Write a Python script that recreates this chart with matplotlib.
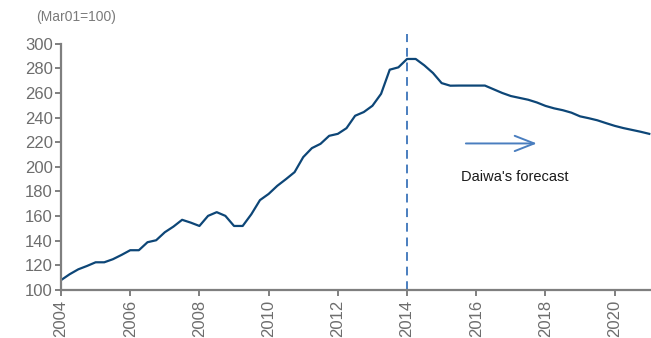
import numpy as np
import matplotlib
matplotlib.use("Agg")
import matplotlib.pyplot as plt

# Quarterly index, Mar01=100 (actual to 2015Q2, forecast afterwards)
start_year = 2004.0
index_values = [
    108, 112.8, 116.8, 119.5, 122.5, 122.5, 125, 128.5,
    132.3, 132.3, 138.8, 140.4, 146.9, 151.5, 157, 154.7,
    152, 160.2, 163.2, 160.2, 152, 152, 161.5, 173,
    178, 184.6, 190, 195.7, 207.9, 215.2, 218.7, 225.2,
    226.8, 231.4, 241.5, 244.5, 249.6, 259.3, 278.9, 280.8,
    287.6, 287.6, 282.4, 276.2, 268, 265.9, 266, 266,
    266, 266, 263, 260, 257.5, 256, 254.5, 252.3,
    249.5, 247.5, 246, 244, 241, 239.5, 237.8, 235.5,
    233.3, 231.5, 230, 228.5, 226.8,
]
forecast_start = 2014
x_ticks = list(range(2004, 2021, 2))
y_ticks = list(range(100, 301, 20))
unit_label = "(Mar01=100)"
forecast_label = "Daiwa's forecast"

quarters = start_year + np.arange(len(index_values)) * 0.25

fonts = ["Liberation Sans Narrow", "Liberation Sans", "DejaVu Sans"]
plt.rcParams["font.family"] = fonts

grey = "#7f7f7f"
fig = plt.figure(figsize=(6.51, 3.38), dpi=100)
ax = fig.add_axes([61 / 651, 1 - 290 / 338, 1 - 61 / 651, (290 - 43.7) / 338])

ax.plot(quarters, index_values, color="#0d4677", lw=1.6, solid_joinstyle="round")

ax.plot([forecast_start, forecast_start], [100, 308], color="#4a7ebf", lw=1.4,
        linestyle=(0, (4.5, 3)), clip_on=False)

ax.set_xlim(2004, 2021.05)
ax.set_ylim(100, 300)
ax.set_xticks(x_ticks)
ax.set_yticks(y_ticks)
ax.set_xticklabels([str(t) for t in x_ticks], rotation=90)

for side in ("top", "right"):
    ax.spines[side].set_visible(False)
for side in ("left", "bottom"):
    ax.spines[side].set_color(grey)
    ax.spines[side].set_linewidth(1.6)

ax.tick_params(axis="both", colors=grey, labelcolor="#6d6d6d", labelsize=12,
               width=1.4, length=4, direction="out")
ax.tick_params(axis="x", pad=3)
ax.tick_params(axis="y", pad=2)

fig.text(36 / 651, 1 - 17 / 338, unit_label, color="#7a7a7a", fontsize=10,
         ha="left", va="center")

ax.annotate("", xy=(2017.75, 219), xytext=(2015.7, 219),
            arrowprops=dict(arrowstyle="->,head_length=1.4,head_width=0.55",
                            color="#4a7ebf", lw=1.4, shrinkA=0, shrinkB=0))
ax.text(2015.55, 192, forecast_label, color="#1a1a1a", fontsize=10.5,
        ha="left", va="center")

fig.savefig("out.png", dpi=100)
